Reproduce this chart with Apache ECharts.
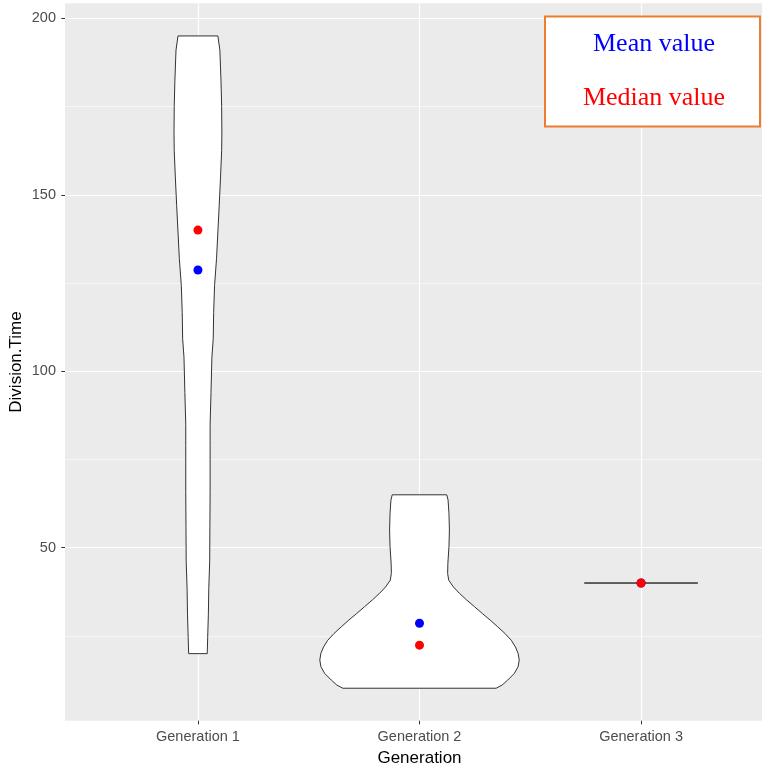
<!DOCTYPE html>
<html>
  <head>
    <title></title>
    <meta charset="UTF-8" />
    <script src="https://cdn.jsdelivr.net/npm/echarts@6/dist/echarts.min.js"></script>
    <style>
      body { margin: 0; background: #fff; }
    </style>
  </head>
  <body>
    <div id="main"></div>
    <script>
      const width = 762;
      const height = 767;
      const main = document.getElementById('main');
      main.style.width = `${width}px`;
      main.style.height = `${height}px`;

      const categories = ['Generation 1', 'Generation 2', 'Generation 3'];
      const yTicks = [50, 100, 150, 200];
      const yMinorTicks = [25, 75, 125, 175];

      // violin outlines: [Division.Time, half width in x units], top to bottom
      const violinGen1 = [
        [195, 0.09], [191, 0.099], [182.5, 0.104], [175, 0.107], [167.5, 0.108],
        [162.5, 0.107], [155, 0.102], [147, 0.096], [139.5, 0.09], [132, 0.084],
        [124.3, 0.075], [116.7, 0.071], [109.2, 0.069], [104, 0.063], [94, 0.059],
        [85, 0.055], [79, 0.055], [66, 0.055], [56, 0.054], [46, 0.053],
        [38.5, 0.049], [31, 0.047], [24.6, 0.044], [20, 0.042]
      ];
      const violinGen2 = [
        [65.0, 0.123], [63.5, 0.129], [59.7, 0.133], [55.0, 0.135], [50.3, 0.133],
        [45.6, 0.128], [42.7, 0.127], [40.8, 0.132], [38.9, 0.153], [37.1, 0.18],
        [35.2, 0.213], [33.3, 0.248], [31.4, 0.283], [29.5, 0.319], [27.6, 0.353],
        [25.7, 0.386], [23.8, 0.414], [21.9, 0.433], [20.1, 0.445], [18.2, 0.45],
        [16.3, 0.445], [14.4, 0.428], [12.5, 0.398], [11.1, 0.373], [10.2, 0.346]
      ];
      const violinGen3 = [[40, 0.256]];
      const violins = [violinGen1, violinGen2, violinGen3];

      const meanValues = [128.7, 28.6, 40];
      const medianValues = [140, 22.4, 40];

      const fontSans = 'Liberation Sans';
      const tickLabel = {
        fontFamily: fontSans,
        fontSize: 14.5,
        color: '#4D4D4D'
      };

      const myChart = echarts.init(main);
      const option = {
        animation: false,
        grid: {
          left: 65,
          top: 3.3,
          width: 709,
          bottom: 46.3,
          outerBoundsMode: 'none',
          containLabel: false,
          show: true,
          backgroundColor: '#EBEBEB',
          borderWidth: 0
        },
        xAxis: {
          type: 'value',
          min: 0.4,
          max: 3.6,
          name: 'Generation',
          nameLocation: 'middle',
          nameGap: 29,
          nameMoveOverlap: false,
          nameTextStyle: { fontFamily: fontSans, fontSize: 17, color: '#000' },
          axisLine: { show: false },
          axisTick: {
            customValues: [1, 2, 3],
            length: 3.7,
            lineStyle: { color: '#333333', width: 1 }
          },
          axisLabel: Object.assign({
            customValues: [1, 2, 3],
            margin: 9,
            formatter: (v) => categories[Math.round(v) - 1]
          }, tickLabel),
          splitLine: { show: true, lineStyle: { color: '#FFFFFF', width: 1.2 } }
        },
        yAxis: [
          {
            type: 'value',
            min: 1.0,
            max: 204.25,
            name: 'Division.Time',
            nameLocation: 'middle',
            nameGap: 40,
            nameMoveOverlap: false,
            nameTextStyle: { fontFamily: fontSans, fontSize: 17, color: '#000' },
            axisLine: { show: false },
            axisTick: {
              customValues: yTicks,
              length: 3.7,
              lineStyle: { color: '#333333', width: 1 }
            },
            axisLabel: Object.assign({ customValues: yTicks, margin: 9 }, tickLabel),
            splitLine: { show: true, lineStyle: { color: '#FFFFFF', width: 1.2 } }
          },
          {
            type: 'value',
            position: 'left',
            min: 1.0,
            max: 204.25,
            axisLine: { show: false },
            axisTick: { show: false, customValues: yMinorTicks },
            axisLabel: { show: false, customValues: yMinorTicks },
            splitLine: { show: true, lineStyle: { color: '#FFFFFF', width: 0.6 } }
          }
        ],
        series: [
          {
            type: 'custom',
            data: [[1], [2], [3]],
            encode: { x: 0 },
            renderItem: function (params, api) {
              const pos = api.value(0);
              const prof = violins[params.dataIndex];
              const pts = [];
              for (let i = 0; i < prof.length; i++) {
                pts.push(api.coord([pos + prof[i][1], prof[i][0]]));
              }
              for (let i = prof.length - 1; i >= 0; i--) {
                pts.push(api.coord([pos - prof[i][1], prof[i][0]]));
              }
              return {
                type: 'polygon',
                shape: { points: pts },
                style: { fill: '#FFFFFF', stroke: '#333333', lineWidth: 1 }
              };
            }
          },
          {
            type: 'scatter',
            symbolSize: 9,
            itemStyle: { color: '#0000FF', opacity: 1 },
            data: meanValues.map((v, i) => [i + 1, v])
          },
          {
            type: 'scatter',
            symbolSize: 9,
            itemStyle: { color: '#FF0000', opacity: 1 },
            data: medianValues.map((v, i) => [i + 1, v])
          }
        ],
        graphic: [
          {
            type: 'rect',
            z: 100,
            shape: { x: 545, y: 16.5, width: 215, height: 110 },
            style: { fill: '#FFFFFF', stroke: '#ED7D31', lineWidth: 2 }
          },
          {
            type: 'text',
            z: 101,
            x: 654,
            y: 44,
            style: {
              text: 'Mean value',
              fill: '#0000FF',
              font: '26px "Liberation Serif"',
              align: 'center',
              verticalAlign: 'middle'
            }
          },
          {
            type: 'text',
            z: 101,
            x: 654,
            y: 98,
            style: {
              text: 'Median value',
              fill: '#FF0000',
              font: '26px "Liberation Serif"',
              align: 'center',
              verticalAlign: 'middle'
            }
          }
        ]
      };
      myChart.setOption(option);
    </script>
  </body>
</html>
